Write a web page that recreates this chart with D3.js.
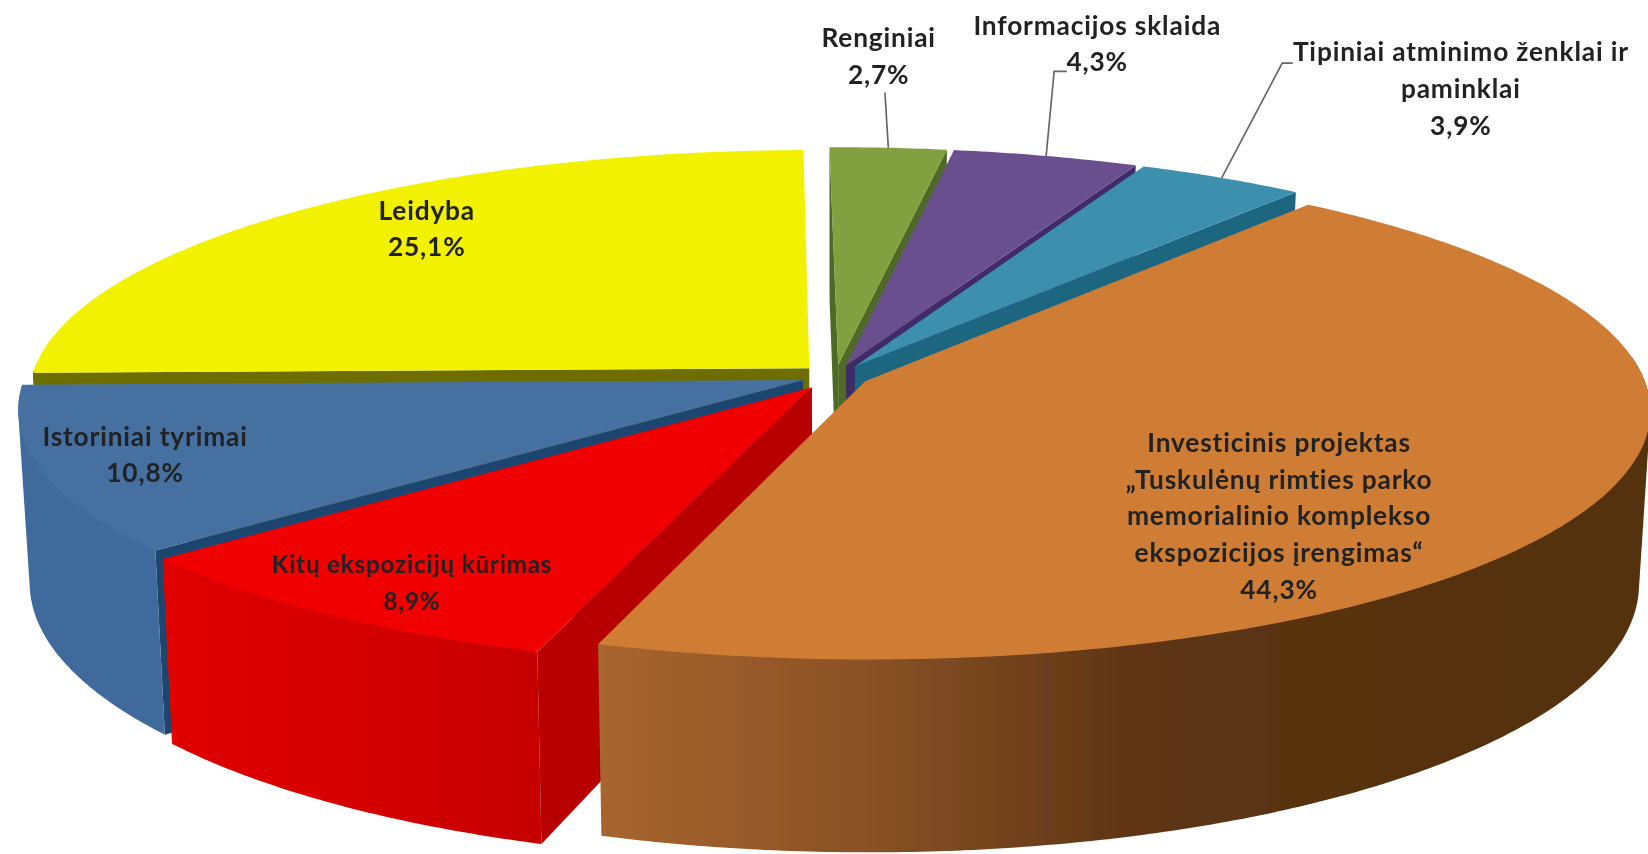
<!DOCTYPE html>
<html>
<head>
<meta charset="utf-8">
<script src="https://d3js.org/d3.v7.min.js"></script>
<style>
  html, body { margin: 0; padding: 0; background: #fff; }
  svg { display: block; }
  text { font-family: Lato, "Open Sans", sans-serif; font-weight: 700; fill: #222; text-anchor: middle; letter-spacing: 0.8px; }
</style>
</head>
<body>
<div id="chart"></div>
<script>
// slices, clockwise from the top
const categories = ['Renginiai', 'Informacijos sklaida', 'Tipiniai atminimo ženklai ir paminklai',
    'Investicinis projektas „Tuskulėnų rimties parko memorialinio komplekso ekspozicijos įrengimas“',
    'Kitų ekspozicijų kūrimas', 'Istoriniai tyrimai', 'Leidyba'];
const values = [2.7, 4.3, 3.9, 44.3, 8.9, 10.8, 25.1];
const valueLabels = ['2,7%', '4,3%', '3,9%', '44,3%', '8,9%', '10,8%', '25,1%'];

// label text broken in lines, same order as categories
const labelLines = [
    ['Renginiai'],
    ['Informacijos sklaida'],
    ['Tipiniai atminimo ženklai ir', 'paminklai'],
    ['Investicinis projektas', '„Tuskulėnų rimties parko', 'memorialinio komplekso', 'ekspozicijos įrengimas“'],
    ['Kitų ekspozicijų kūrimas'],
    ['Istoriniai tyrimai'],
    ['Leidyba']
];

// styles per slice
const topColors = ['#83a040', '#6b4f8f', '#3d8fae', '#cf7d36', '#f00000', '#44709f', '#f2f200'];
const wallColors = ['#4f6a28', '#3f2c68', '#1f667f', '#a8652e', '#b80000', '#1f4570', '#6e6e00'];
const sideStops = [
    ['#6a8434', '#6a8434'],
    ['#574078', '#574078'],
    ['#2f7590', '#2f7590'],
    ['#a8652e', '#8a5226', '#5f3615', '#55310f', '#52300f'],
    ['#e00000', '#d60000', '#c40000'],
    ['#3f6a9c', '#3f6a9c'],
    ['#6e6e00', '#6e6e00']
];
const explode = [35, 35, 35, 32, 40, 33, 35];

// where each label sits and where its leader bends
const labelX = [836, 1044, 1390, 1217, 392, 138, 406];
const labelY = [45, 33, 58, 430, 545, 424, 209];
const lineStep = 35;
const labelSize = [25, 25, 25, 25, 23, 25, 25];
const leaders = [
    [[842, 88]],
    [[1003, 68], [1015, 68]],
    [[1220, 60], [1230, 60]],
    null, null, null, null
];

// viewBox is the size the picture was measured at
const vbW = 1568, vbH = 812.6;
const cx = 795, cy = 358, R = 740, tilt = 0.315, persp = 0.115, depth = 162, converge = 0.014;
const rotation = -0.7 * Math.PI / 180;

const svg = d3.select('#chart').append('svg')
    .attr('width', 1648)
    .attr('height', 854)
    .attr('viewBox', `0 0 ${vbW} ${vbH}`);

const defs = svg.append('defs');
defs.append('filter').attr('id', 'soft')
    .append('feGaussianBlur').attr('stdDeviation', 0.6);
defs.append('filter').attr('id', 'softText')
    .append('feGaussianBlur').attr('stdDeviation', 0.45);

sideStops.forEach((stops, i) => {
    const g = defs.append('linearGradient').attr('id', 'side' + i);
    stops.forEach((c, j) => {
        g.append('stop').attr('offset', j / (stops.length - 1)).attr('stop-color', c);
    });
});

const pie = d3.pie().sort(null).value(d => d)
    .startAngle(rotation).endAngle(2 * Math.PI + rotation)(values);
const line = d3.line();

// plane point to screen, z 0 is the top face and 1 the bottom
function project(px, py, z) {
    const s = 1 / (1 + persp * py / R);
    const x = px * s * (1 - converge * z);
    const y = -py * tilt * s + z * depth * s;
    return [cx + x, cy + y];
}

function slicePoints(d, i, z, a0, a1) {
    const mid = (d.startAngle + d.endAngle) / 2;
    const ox = Math.sin(mid) * explode[i], oy = Math.cos(mid) * explode[i];
    const angles = d3.range(a0, a1, 0.01).concat([a1]);
    return {
        apex: project(ox, oy, z),
        arc: angles.map(a => project(ox + R * Math.sin(a), oy + R * Math.cos(a), z))
    };
}

const chart = svg.append('g').attr('filter', 'url(#soft)');

function wall(d, i, a) {
    const t = slicePoints(d, i, 0, a, a), b = slicePoints(d, i, 1, a, a);
    chart.append('path')
        .attr('d', line([t.apex, t.arc[0], b.arc[0], b.apex]) + 'Z')
        .attr('fill', wallColors[i]);
}

// back to front
const order = [0, 1, 2, 6, 5, 4, 3];
order.forEach(i => {
    const d = pie[i];
    // radial faces turned to the viewer
    if (Math.sin(d.startAngle) <= 1e-6) wall(d, i, d.startAngle);
    if (Math.sin(d.endAngle) >= -1e-6) wall(d, i, d.endAngle);

    // rim, only the part in front, hull keeps the outline smooth
    const a0 = Math.max(d.startAngle, Math.PI / 2 - 0.1);
    const a1 = Math.min(d.endAngle, Math.PI * 3 / 2);
    if (a1 > a0) {
        const t = slicePoints(d, i, 0, a0, a1).arc, b = slicePoints(d, i, 1, a0, a1).arc;
        chart.append('path')
            .attr('d', line(d3.polygonHull(t.concat(b))) + 'Z')
            .attr('fill', `url(#side${i})`);
    }

    const top = slicePoints(d, i, 0, d.startAngle, d.endAngle);
    chart.append('path')
        .attr('d', line([top.apex].concat(top.arc)) + 'Z')
        .attr('fill', topColors[i]);
});

// leader lines
leaders.forEach((bends, i) => {
    if (!bends) return;
    const d = pie[i];
    const mid = (d.startAngle + d.endAngle) / 2;
    const start = slicePoints(d, i, 0, mid, mid).arc[0];
    svg.append('path')
        .attr('d', line([start].concat(bends)))
        .attr('fill', 'none')
        .attr('stroke', '#666')
        .attr('stroke-width', 1.6);
});

// labels
const labels = svg.append('g').attr('filter', 'url(#softText)');
categories.forEach((name, i) => {
    const rows = labelLines[i].concat([valueLabels[i]]);
    const t = labels.append('text')
        .attr('font-size', labelSize[i])
        .attr('aria-label', name);
    rows.forEach((row, j) => {
        t.append('tspan')
            .attr('x', labelX[i])
            .attr('y', labelY[i] + j * lineStep)
            .text(row);
    });
});
</script>
</body>
</html>
